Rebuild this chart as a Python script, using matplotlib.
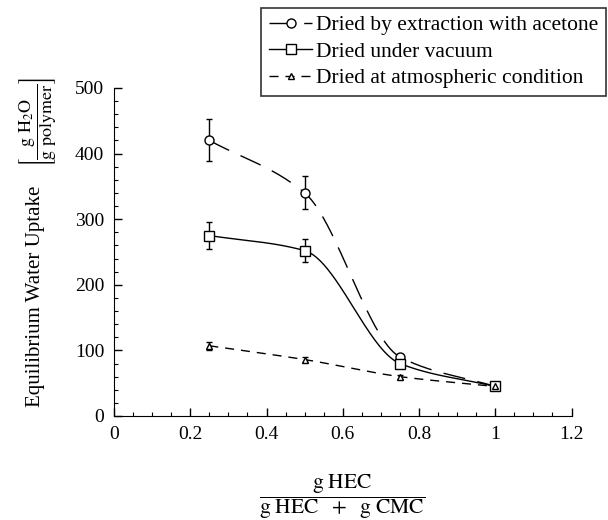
import numpy as np
import matplotlib
matplotlib.use("Agg")
import matplotlib.pyplot as plt
from matplotlib.ticker import MultipleLocator


#Data
hec_fraction = [0.25, 0.5, 0.75, 1.0]

acetone_uptake = [420, 340, 90, 45]
acetone_err = [32, 25, 4, 0]

vacuum_uptake = [275, 252, 80, 45]
vacuum_err = [20, 18, 4, 0]

atmos_uptake = [107, 86, 60, 45]
atmos_err = [6, 4, 3, 0]

series_labels = ["Dried by extraction with acetone",
                 "Dried under vacuum",
                 "Dried at atmospheric condition"]


#Smooth curve through the points (monotone cubic, like the drawn lines)
def smooth_curve(x, y, n=200):
    x = np.asarray(x, dtype=float)
    y = np.asarray(y, dtype=float)
    h = np.diff(x)
    d = np.diff(y) / h
    m = np.zeros_like(y)
    m[0] = d[0]
    m[-1] = d[-1]
    for k in range(1, len(x) - 1):
        if d[k - 1] * d[k] > 0:
            w1 = 2 * h[k] + h[k - 1]
            w2 = h[k] + 2 * h[k - 1]
            m[k] = (w1 + w2) / (w1 / d[k - 1] + w2 / d[k])
    xs = np.linspace(x[0], x[-1], n)
    idx = np.clip(np.searchsorted(x, xs) - 1, 0, len(x) - 2)
    t = (xs - x[idx]) / h[idx]
    h00 = 2 * t**3 - 3 * t**2 + 1
    h10 = t**3 - 2 * t**2 + t
    h01 = -2 * t**3 + 3 * t**2
    h11 = t**3 - t**2
    ys = h00 * y[idx] + h10 * h[idx] * m[idx] + h01 * y[idx + 1] + h11 * h[idx] * m[idx + 1]
    return xs, ys


plt.rcParams['font.family'] = ['Liberation Serif', 'DejaVu Serif']
plt.rcParams['mathtext.fontset'] = 'stix'
plt.rcParams['font.size'] = 13

fig = plt.figure(figsize=(6.08, 5.2), dpi=100)
ax = fig.add_axes([0.1875, 0.2, 0.7525, 0.631])

styles = [
    (acetone_uptake, acetone_err, 'o', (0, (16, 9)), 6.5),
    (vacuum_uptake, vacuum_err, 's', '-', 7.5),
    (atmos_uptake, atmos_err, '^', (0, (6.5, 5)), 4.5),
]

handles = []
for (vals, errs, mk, ls, ms), label in zip(styles, series_labels):
    xs, ys = smooth_curve(hec_fraction, vals)
    ax.plot(xs, ys, color='black', linestyle=ls, linewidth=1.0)
    ax.errorbar(hec_fraction, vals, yerr=errs, fmt=mk, markersize=ms,
                markerfacecolor='white', markeredgecolor='black',
                markeredgewidth=1.0, ecolor='black', elinewidth=1.0,
                capsize=2.2, zorder=3)
    h, = ax.plot([], [], color='black', linestyle=ls, linewidth=1.0,
                 marker=mk, markersize=ms, markerfacecolor='white',
                 markeredgecolor='black', label=label)
    handles.append(h)

ax.set_xlim(0, 1.2)
ax.set_ylim(0, 500)
ax.set_xticks([0, 0.2, 0.4, 0.6, 0.8, 1.0, 1.2])
ax.set_xticklabels(['0', '0.2', '0.4', '0.6', '0.8', '1', '1.2'])
ax.set_yticks([0, 100, 200, 300, 400, 500])
ax.xaxis.set_minor_locator(MultipleLocator(0.05))
ax.yaxis.set_minor_locator(MultipleLocator(20))
ax.tick_params(which='both', direction='in', top=False, right=False)
ax.tick_params(which='major', length=6, width=1, labelsize=14, pad=7)
ax.tick_params(which='minor', length=3, width=0.8)
ax.spines['top'].set_visible(False)
ax.spines['right'].set_visible(False)

#y label: words plus the bracketed unit fraction above them
fig.text(0.058, 0.43, 'Equilibrium Water Uptake', rotation=90,
         ha='center', va='center', fontsize=15)
fig.text(0.062, 0.765, r'$\left[\dfrac{\mathrm{g\ H_2O}}{\mathrm{g\ polymer}}\right]$',
         rotation=90, ha='center', va='center', fontsize=13)

fig.text(0.563, 0.045, r'$\dfrac{\mathrm{g\ HEC}}{\mathrm{g\ HEC\ \ +\ \ g\ CMC}}$',
         ha='center', va='center', fontsize=15.5)

leg = fig.legend(handles=handles, loc='upper right', bbox_to_anchor=(0.997, 0.985),
                 frameon=True, fancybox=False, edgecolor='black', fontsize=15.5,
                 handlelength=2.0, handletextpad=0.2, borderpad=0.35,
                 labelspacing=0.3, borderaxespad=0.0)
leg.get_frame().set_linewidth(1.2)

fig.savefig('out.png', dpi=100)
